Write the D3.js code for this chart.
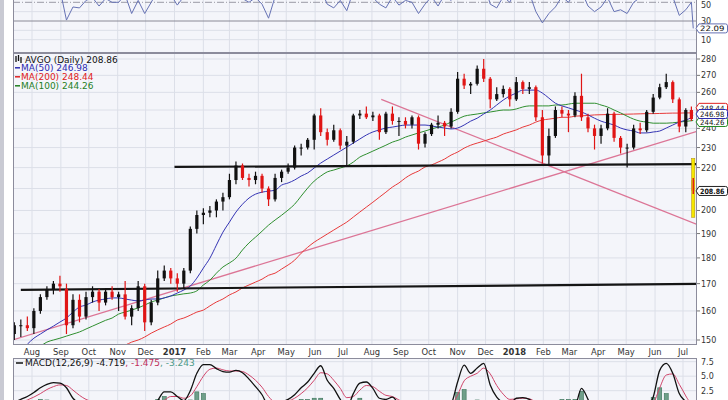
<!DOCTYPE html>
<html><head><meta charset="utf-8">
<script src="https://cdn.jsdelivr.net/npm/d3@7"></script>
<style>
body{margin:0;background:#fff;}
svg{display:block;font-family:"DejaVu Sans",Verdana,sans-serif;}
</style>
</head><body>
<svg id="c" width="728" height="400"></svg>
<script>
// ---------------- DATA ----------------
const dates = [
"2016-07-13","2016-07-20","2016-07-27",
"2016-08-03","2016-08-10","2016-08-17","2016-08-24","2016-08-31",
"2016-09-07","2016-09-14","2016-09-21","2016-09-28",
"2016-10-05","2016-10-12","2016-10-19","2016-10-26",
"2016-11-02","2016-11-09","2016-11-16","2016-11-23","2016-11-30",
"2016-12-07","2016-12-14","2016-12-21","2016-12-28",
"2017-01-04","2017-01-11","2017-01-18","2017-01-25",
"2017-02-01","2017-02-08","2017-02-15","2017-02-22",
"2017-03-01","2017-03-08","2017-03-15","2017-03-22","2017-03-29",
"2017-04-05","2017-04-12","2017-04-19","2017-04-26",
"2017-05-03","2017-05-10","2017-05-17","2017-05-24","2017-05-31",
"2017-06-07","2017-06-14","2017-06-21","2017-06-28",
"2017-07-05","2017-07-12","2017-07-19","2017-07-26",
"2017-08-02","2017-08-09","2017-08-16","2017-08-23","2017-08-30",
"2017-09-06","2017-09-13","2017-09-20","2017-09-27",
"2017-10-04","2017-10-11","2017-10-18","2017-10-25",
"2017-11-01","2017-11-08","2017-11-15","2017-11-22","2017-11-29",
"2017-12-06","2017-12-13","2017-12-20","2017-12-27",
"2018-01-03","2018-01-10","2018-01-17","2018-01-24","2018-01-31",
"2018-02-07","2018-02-14","2018-02-21","2018-02-28",
"2018-03-07","2018-03-14","2018-03-21","2018-03-28",
"2018-04-04","2018-04-11","2018-04-18","2018-04-25",
"2018-05-02","2018-05-09","2018-05-16","2018-05-23","2018-05-30",
"2018-06-06","2018-06-13","2018-06-20","2018-06-27",
"2018-07-04","2018-07-10","2018-07-12"];

// [open, high, low, close]
const ohlc = [
[152,156,150,155],[155,157,151,155],[155,158,153,154],
[154,161,152,160],[160,166,159,165],[165,169,164,168],[168,171,166,170],[170,173,167,169],
[168,170,152,155],[155,166,154,164],[164,166,156,158],[158,167,157,165],
[165,169,163,167],[167,168,160,163],[163,168,162,167],[167,169,164,165],
[165,167,160,166],[166,171,157,158],[158,162,155,161],[161,171,160,169],[169,170,153,156],
[156,164,155,163],[163,175,162,172],[172,177,171,175],[175,176,170,172],
[172,174,167,170],[170,176,168,175],[175,193,174,192],[192,200,190,198],
[198,201,194,199],[199,202,197,200],[200,205,197,204],[204,208,200,206],
[206,217,205,214],[214,223,212,221],[221,222,214,215],[215,217,211,214],[214,218,212,216],
[216,217,208,210],[210,211,202,205],[205,217,204,215],[215,219,213,218],
[218,222,217,220],[220,231,219,230],[230,232,226,230],[230,235,229,234],[234,248,229,247],
[247,251,236,238],[238,240,231,234],[234,242,233,239],[239,240,229,231],
[231,236,221,233],[233,248,232,247],[247,250,245,248],[248,252,245,246],
[246,249,244,247],[247,248,234,238],[238,249,237,248],[248,252,242,244],[244,246,236,244],
[244,246,240,242],[242,247,240,246],[246,247,229,232],[232,238,230,237],
[237,243,236,242],[242,247,240,243],[243,244,236,241],[241,251,240,249],
[249,272,248,268],[268,271,262,264],[264,266,259,265],[265,276,264,274],[274,280,266,268],
[268,269,251,256],[256,263,255,259],[259,264,257,262],[262,263,252,256],
[256,269,255,266],[266,267,259,262],[262,266,259,263],[263,264,244,246],[246,250,222,226],
[226,240,221,236],[236,252,235,250],[250,252,246,248],[248,250,238,247],
[247,260,246,258],[258,271,244,246],[246,248,238,240],[240,242,229,236],
[236,242,232,240],[240,251,239,248],[248,249,233,235],[235,236,227,230],
[230,232,220,230],[230,242,229,240],[240,243,237,239],[239,250,238,249],[249,259,248,257],
[257,265,256,263],[263,271,262,266],[266,267,254,256],[256,257,238,241],
[241,251,238,250],[250,252,244,245],[214,215,207.5,208.86]];

const ma50 = [
null,null,148.6,
150.6,152.0,153.4,154.7,156.1,
157.5,159.6,161.4,162.1,
163.2,163.9,164.3,164.7,
164.7,164.3,163.9,163.6,163.9,
164.3,164.3,164.7,165.4,
166.5,167.6,169.1,172.1,
176.0,179.9,185.2,190.6,
194.9,199.3,202.8,205.6,207.4,
208.3,208.8,209.2,211.6,
212.6,214.0,215.9,217.4,219.8,
222.2,224.2,226.2,228.2,
230.2,232.3,234.4,236.5,
238.1,239.2,240.2,240.7,241.3,
241.8,241.8,241.8,241.8,
241.3,240.7,240.2,239.7,
240.2,241.8,243.9,245.5,247.8,
250.0,252.8,255.6,257.9,
259.6,261.3,261.3,261.3,259.6,
256.7,253.8,252.3,251.2,
250.0,248.9,247.3,245.5,
243.9,242.8,241.8,240.2,
239.2,238.6,237.6,237.6,238.1,
238.6,240.2,241.8,243.4,
244.5,246.0,246.98];

const ma100 = [
null,null,null,
null,147.9,149.3,150.0,150.6,
151.3,152.0,152.7,153.7,
154.7,155.7,156.7,157.5,
158.9,159.6,160.3,161.1,162.1,
163.2,163.9,164.7,165.4,
165.8,166.2,166.5,167.3,
169.5,171.3,174.0,176.4,
178.0,179.9,183.2,186.1,188.5,
191.0,193.6,195.8,197.9,
200.2,202.8,206.5,210.2,213.5,
215.9,217.9,218.8,219.8,
220.8,222.7,225.2,226.7,
228.2,229.7,231.2,232.8,233.9,
235.4,236.5,237.6,238.6,
239.7,240.7,241.8,243.4,
245.0,246.6,247.3,247.8,248.4,
248.9,249.5,250.0,250.0,
250.6,251.7,252.3,252.3,252.3,
252.3,252.8,252.8,253.3,
253.8,253.8,253.8,253.8,
252.8,251.7,250.0,248.4,
246.6,245.0,243.9,243.4,242.8,
242.8,242.8,243.0,243.4,
243.8,244.1,244.26];

const ma200 = [
null,null,null,
null,null,null,null,null,
null,null,null,null,
null,null,null,null,
147.6,148.3,149.3,150.0,151.0,
152.3,153.4,154.4,155.4,
156.8,157.5,158.5,159.6,
160.3,161.8,163.2,164.3,
165.8,166.9,168.4,169.5,170.6,
171.7,173.2,174.0,175.6,
177.2,179.1,181.9,184.3,186.4,
188.1,189.8,191.5,193.2,
194.9,197.1,199.3,201.5,
203.7,206.0,208.3,210.7,212.6,
215.0,216.9,218.3,220.3,
221.3,222.7,224.2,226.2,
227.7,229.7,231.2,232.3,233.3,
234.4,235.4,237.0,238.1,
239.2,240.7,241.8,243.4,244.5,
245.0,245.5,246.0,246.0,
246.6,246.8,247.0,247.3,
247.4,247.5,247.6,247.6,
247.7,247.8,247.9,248.0,248.0,
248.1,248.2,248.3,248.3,
248.4,248.4,248.44];

const rsi = [
62,65,60,
58,68,70,66,64,
31,45,44,52,
55,46,54,50,
50,58,38,52,38,
50,62,66,58,
47,56,72,78,
70,64,66,62,
70,72,54,50,55,
48,33,56,62,
66,72,66,70,72,
64,48,44,52,
41,62,64,60,
55,48,44,56,47,
52,50,38,48,
56,46,58,52,
75,72,62,70,72,
48,44,56,50,
64,58,60,40,28,
38,45,56,50,
60,62,46,40,
45,55,40,42,
38,50,55,60,66,
68,66,56,36,
42,50,22.09];

const macd = [
0.5,1.0,1.5,
2.2,3.0,3.6,3.9,3.8,
3.0,1.2,0.3,-0.3,
0.0,0.2,-0.3,0.2,
-0.1,0.4,-1.0,-0.5,-0.6,
-1.0,0.8,2.3,2.3,
1.5,0.8,2.5,5.5,
7.0,7.0,6.3,5.8,
5.7,6.0,5.6,4.5,3.2,
1.8,-0.2,-0.5,0.5,
1.0,1.8,3.0,4.0,5.5,
6.8,4.3,2.9,1.0,
-0.5,2.0,3.8,4.0,
2.9,1.2,1.0,1.4,0.3,
0.0,-0.2,-1.5,-1.2,
0.0,-0.3,-0.5,0.2,
4.0,6.9,5.5,6.4,7.2,
3.5,1.4,0.5,0.3,
1.2,1.3,1.0,-0.5,-4.0,
-6.0,-4.5,-2.5,-1.5,
-0.5,2.9,1.0,-1.5,
-2.5,-1.5,-1.0,-2.5,
-3.5,-3.0,-1.5,-0.5,1.4,
6.0,7.2,5.5,2.0,
0.5,-1.5,-4.719];

const signal = [
0.3,0.5,0.9,
1.4,2.0,2.7,3.2,3.5,
3.4,2.6,1.7,1.0,
0.6,0.4,0.2,0.2,
0.1,0.2,-0.2,-0.4,-0.5,
-0.7,-0.2,0.8,1.5,
1.5,1.2,1.6,3.2,
5.0,6.2,6.4,6.1,
5.9,5.9,5.8,5.2,4.3,
3.1,1.5,0.5,0.4,
0.7,1.2,2.0,3.0,4.3,
5.6,5.4,4.3,2.9,
1.3,1.5,2.6,3.4,
3.2,2.4,1.7,1.5,0.9,
0.4,0.1,-0.7,-1.0,
-0.6,-0.4,-0.4,-0.1,
1.8,4.2,5.0,5.5,6.4,
5.4,3.4,1.9,1.0,
1.1,1.2,1.1,0.3,-1.8,
-4.0,-4.4,-3.5,-2.5,
-1.5,0.5,0.8,-0.4,
-1.5,-1.5,-1.2,-1.8,
-2.7,-2.9,-2.2,-1.3,0.1,
3.0,5.2,5.4,3.6,
1.6,-0.3,-1.475];

const monthStarts = ["2016-08-01","2016-09-01","2016-10-01","2016-11-01","2016-12-01","2017-01-01",
"2017-02-01","2017-03-01","2017-04-01","2017-05-01","2017-06-01","2017-07-01",
"2017-08-01","2017-09-01","2017-10-01","2017-11-01","2017-12-01","2018-01-01",
"2018-02-01","2018-03-01","2018-04-01","2018-05-01","2018-06-01","2018-07-01"];
const monthLabels = ["Aug","Sep","Oct","Nov","Dec","2017","Feb","Mar","Apr","May","Jun","Jul",
"Aug","Sep","Oct","Nov","Dec","2018","Feb","Mar","Apr","May","Jun","Jul"];
const priceTicks = [150,160,170,180,190,200,210,220,230,240,250,260,270,280];
const priceTicksHidden = [210,250];   // covered by the value tags in the reference
const rsiTicks = [10,30,50];
const rsiGrid = [10,20,30,40,50];
const macdTicks = [2.5,5.0,7.5];

// annotations: [date, price]
const supportLines = [
  [["2016-07-20",167.7],["2018-07-16",169.9]],
  [["2017-01-01",220.3],["2018-07-16",221.7]]];
const trendLines = [
  [["2016-07-11",150.0],["2018-07-16",238.4]],
  [["2017-08-11",256.0],["2018-07-16",193.9]]];
const gapMarker = ["2018-07-12",224.5,197.0];

const title = "AVGO (Daily) 208.86";
const maLegend = [["MA(50) 246.98","#2a2ab0"],["MA(200) 248.44","#e02020"],["MA(100) 244.26","#1f7f1f"]];
const lastClose = 208.86, lastRsi = 22.09;
// value, colour, tag offset (px) to keep the stacked tags readable
const maLast = [[248.44,"#e02020",-5],[244.26,"#1f8a1f",1.5],[246.98,"#2a2ab0",-1.5]];

// ---------------- CHECK ----------------
[ohlc,ma50,ma100,ma200,rsi,macd,signal].forEach((a,i)=>{ if(a.length!==dates.length) throw new Error("len mismatch "+i+": "+a.length+" vs "+dates.length); });

// ---------------- DRAW ----------------
const parse = d3.utcParse("%Y-%m-%d");
const D = dates.map(parse);
const svg = d3.select("#c");
const L = 13, R = 697;
const X = d3.scaleUtc().domain([parse("2016-08-01"), parse("2018-07-01")]).range([32, 683]);
const YP = d3.scaleLog().domain([150,280]).range([340,59]);
const YR = d3.scaleLinear().domain([10,50]).range([39.7,2.3]);
const YM = d3.scaleLinear().domain([2.5,7.5]).range([390.7,361.7]);

const panels = {rsi:[-2,53], main:[53,345], macd:[358,403]};
const bg = "#f4f5fa", grid = "#dcdfe8", border = "#8c8c9c";

svg.append("rect").attr("x",0).attr("y",0).attr("width",728).attr("height",400).attr("fill","#ffffff");
svg.append("rect").attr("x",0).attr("y",0).attr("width",4).attr("height",400).attr("fill","#c9cad3");

const defs = svg.append("defs");
Object.entries(panels).forEach(([k,[t,b]])=>{
  defs.append("clipPath").attr("id","clip-"+k).append("rect").attr("x",L).attr("y",t).attr("width",R-L).attr("height",b-t);
  svg.append("rect").attr("x",L).attr("y",t).attr("width",R-L).attr("height",b-t).attr("fill",bg);
});

Object.entries(panels).forEach(([k,[t,b]])=>{
  svg.append("g").selectAll("line").data(monthStarts).join("line")
    .attr("x1",d=>X(parse(d))).attr("x2",d=>X(parse(d)))
    .attr("y1",t).attr("y2",b).attr("stroke",grid).attr("stroke-width",1);
});
svg.append("g").selectAll("line").data(priceTicks).join("line")
  .attr("x1",L).attr("x2",R).attr("y1",d=>YP(d)).attr("y2",d=>YP(d)).attr("stroke",grid);
svg.append("g").selectAll("line").data(rsiGrid).join("line")
  .attr("x1",L).attr("x2",R).attr("y1",d=>YR(d)).attr("y2",d=>YR(d))
  .attr("stroke",d=>d===30?"#8a8a96":(d===50?"#9a9aa6":grid))
  .attr("stroke-dasharray",d=>d===50?"7,2,1,2":null);
svg.append("g").selectAll("line").data(macdTicks).join("line")
  .attr("x1",L).attr("x2",R).attr("y1",d=>YM(d)).attr("y2",d=>YM(d)).attr("stroke",grid);

// ---- RSI panel ----
const rsiG = svg.append("g").attr("clip-path","url(#clip-rsi)");
rsiG.append("path").datum(rsi).attr("fill","none").attr("stroke","#6672b4").attr("stroke-width",1)
  .attr("d", d3.line().x((d,i)=>X(D[i])).y(d=>YR(d)));

// ---- MAIN panel ----
const mg = svg.append("g").attr("clip-path","url(#clip-main)");
function lineOf(arr){ return d3.line().defined(d=>d!=null).x((d,i)=>X(D[i])).y(d=>YP(d)).curve(d3.curveMonotoneX)(arr); }
trendLines.forEach(tl=>{
  mg.append("line").attr("x1",X(parse(tl[0][0]))).attr("y1",YP(tl[0][1]))
    .attr("x2",X(parse(tl[1][0]))).attr("y2",YP(tl[1][1]))
    .attr("stroke","#dc7596").attr("stroke-width",1.3);
});
[[ma200,"#e83a3a"],[ma100,"#2f8f2f"],[ma50,"#3434b4"]].forEach(([a,c])=>{
  mg.append("path").attr("d",lineOf(a)).attr("fill","none").attr("stroke",c).attr("stroke-width",1);
});
supportLines.forEach(tl=>{
  mg.append("line").attr("x1",X(parse(tl[0][0]))).attr("y1",YP(tl[0][1]))
    .attr("x2",X(parse(tl[1][0]))).attr("y2",YP(tl[1][1]))
    .attr("stroke","#151515").attr("stroke-width",2.2);
});
const barG = mg.append("g");
ohlc.forEach((b,i)=>{
  const [o,h,l,c] = b; const x = X(D[i]);
  const col = c>=o ? "#111111" : "#e01515";
  barG.append("line").attr("x1",x).attr("x2",x).attr("y1",YP(h)).attr("y2",YP(l)).attr("stroke",col).attr("stroke-width",1.2);
  const y1 = YP(Math.max(o,c)), y2 = YP(Math.min(o,c));
  barG.append("rect").attr("x",x-1.6).attr("y",y1).attr("width",3.2).attr("height",Math.max(1,y2-y1)).attr("fill",col);
});
mg.append("rect").attr("x",X(parse(gapMarker[0]))-1.6).attr("y",YP(gapMarker[1]))
  .attr("width",3.2).attr("height",YP(gapMarker[2])-YP(gapMarker[1]))
  .attr("fill","#f4e600").attr("stroke","#b08a00").attr("stroke-width",0.5);
{ const i=ohlc.length-1, [o,h,l,c]=ohlc[i], x=X(D[i]);
  mg.append("line").attr("x1",x).attr("x2",x).attr("y1",YP(h)).attr("y2",YP(l)).attr("stroke","#e01515").attr("stroke-width",1.4); }

// ---- MACD panel ----
const macdG = svg.append("g").attr("clip-path","url(#clip-macd)");
const hist = macd.map((m,i)=>m-signal[i]);
macdG.selectAll("rect.h").data(hist).join("rect").attr("class","h")
  .attr("x",(d,i)=>X(D[i])-2).attr("width",4)
  .attr("y",d=>d>0?YM(d):YM(0)).attr("height",d=>Math.abs(YM(d)-YM(0)))
  .attr("fill","#6f9f8a").attr("stroke","#3a7258").attr("stroke-width",0.6);
macdG.append("path").datum(signal).attr("fill","none").attr("stroke","#d0456a").attr("stroke-width",1)
  .attr("d",d3.line().x((d,i)=>X(D[i])).y(d=>YM(d)).curve(d3.curveMonotoneX));
macdG.append("path").datum(macd).attr("fill","none").attr("stroke","#111").attr("stroke-width",1.3)
  .attr("d",d3.line().x((d,i)=>X(D[i])).y(d=>YM(d)).curve(d3.curveMonotoneX));

// ---- borders ----
Object.entries(panels).forEach(([k,[t,b]])=>{
  svg.append("rect").attr("x",L+0.5).attr("y",t+0.5).attr("width",R-L-1).attr("height",b-t-1)
    .attr("fill","none").attr("stroke",border).attr("stroke-width",1);
});

// ---- axes text ----
const axisCol = "#333", fs = 8;
svg.append("g").selectAll("text").data(priceTicks.filter(t=>!priceTicksHidden.includes(t))).join("text")
  .attr("x",701).attr("y",d=>YP(d)+3).attr("font-size",fs).attr("fill",axisCol).text(d=>d);
svg.append("g").selectAll("line").data(priceTicks).join("line")
  .attr("x1",R).attr("x2",R+3).attr("y1",d=>YP(d)).attr("y2",d=>YP(d)).attr("stroke","#777");
svg.append("g").selectAll("text").data(rsiTicks).join("text")
  .attr("x",701).attr("y",d=>Math.max(YR(d)+3,7.5)).attr("font-size",fs).attr("fill",axisCol).text(d=>d);
svg.append("g").selectAll("text").data(macdTicks).join("text")
  .attr("x",701).attr("y",d=>YM(d)+3).attr("font-size",fs).attr("fill",axisCol).text(d=>d.toFixed(1));
svg.append("g").selectAll("text").data(monthStarts).join("text")
  .attr("x",(d)=>X(parse(d))).attr("y",355).attr("text-anchor","middle").attr("font-size",8.4)
  .attr("font-weight",(d,i)=>/^\d{4}$/.test(monthLabels[i])?"bold":"normal")
  .attr("fill",axisCol).text((d,i)=>monthLabels[i]);

// ---- value boxes on right ----
function vbox(y, txt, col, bold){
  const g = svg.append("g");
  g.append("path").attr("d",`M${R-1},${y} L${R+2},${y-4.5} L${725.5},${y-4.5} Q727.5,${y-4.5} 727.5,${y-2.5} L727.5,${y+2.5} Q727.5,${y+4.5} 725.5,${y+4.5} L${R+2},${y+4.5} Z`)
    .attr("fill","#fff").attr("stroke",col).attr("stroke-width",1);
  g.append("text").attr("x",700).attr("y",y+2.7).attr("font-size",7.3).attr("fill","#111")
    .attr("font-weight",bold?"bold":"normal").attr("textLength",24.5).attr("lengthAdjust","spacingAndGlyphs").text(txt);
}
maLast.forEach(([v,c,off])=>vbox(YP(v)+off,v.toFixed(2),c,false));
vbox(YP(lastClose), lastClose.toFixed(2), "#222", true);
vbox(YR(lastRsi), lastRsi.toFixed(2), "#6672b4", false);

// ---- legends ----
const lg = svg.append("g").attr("font-size",9);
[[16,56,62],[18.5,55,61],[21,57,63]].forEach(([x,a,b])=>lg.append("line").attr("x1",x).attr("x2",x).attr("y1",a).attr("y2",b).attr("stroke","#111").attr("stroke-width",1.3));
lg.append("text").attr("x",25).attr("y",62.5).attr("fill","#111").text(title);
maLegend.forEach(([t,c],i)=>{
  const y = 67.8 + i*9;
  lg.append("line").attr("x1",15).attr("x2",20).attr("y1",y).attr("y2",y).attr("stroke",c).attr("stroke-width",1.5);
  lg.append("text").attr("x",21).attr("y",y+3).attr("fill",c).text(t);
});
svg.append("line").attr("x1",16).attr("x2",23).attr("y1",363).attr("y2",363).attr("stroke","#111").attr("stroke-width",1.5);
const mt = svg.append("text").attr("x",25).attr("y",366.3).attr("font-size",9);
mt.append("tspan").attr("fill","#111").text("MACD(12,26,9) -4.719");
mt.append("tspan").attr("fill","#c0305a").text(", -1.475");
mt.append("tspan").attr("fill","#4f9a88").text(", -3.243");
</script>
</body></html>
